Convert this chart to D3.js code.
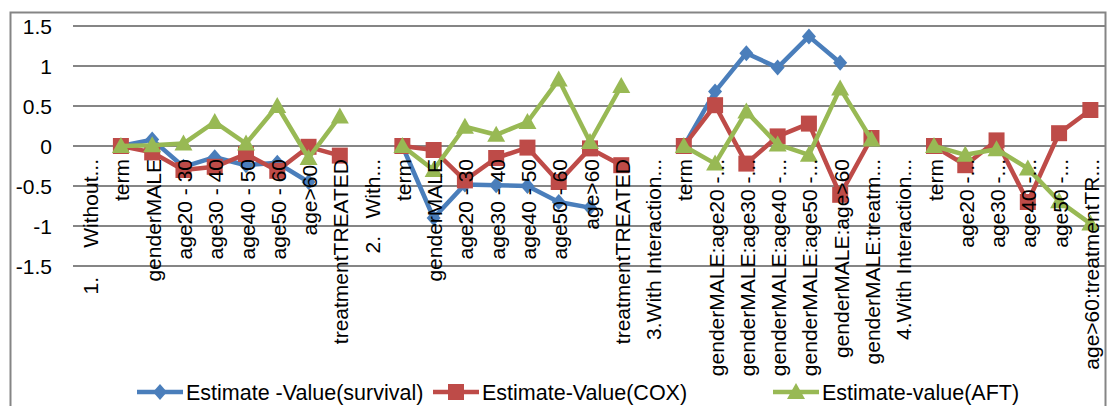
<!DOCTYPE html>
<html>
<head>
<meta charset="utf-8">
<script src="https://cdn.jsdelivr.net/npm/d3@7"></script>
<style>
  html, body { margin: 0; padding: 0; background: #fff; }
  svg { display: block; }
  text { font-family: "Liberation Sans", Arial, sans-serif; fill: #000; white-space: pre; }
</style>
</head>
<body>
<svg id="chart" width="1107" height="406"></svg>
<script>
const categories = [
  "1.     Without...", "term", "genderMALE", "age20 - 30", "age30 - 40", "age40 - 50", "age50 - 60", "age>60 ", "treatmentTREATED",
  "2.   With...", "term", "genderMALE", "age20 - 30", "age30 - 40", "age40 - 50", "age50 - 60", "age>60", "treatmentTREATED",
  "3.With Interaction...", "term", "genderMALE:age20 -...", "genderMALE:age30 -...", "genderMALE:age40 -...", "genderMALE:age50 -...", "genderMALE:age>60", "genderMALE:treatm...",
  "4.With Interaction...", "term", "age20 -...", "age30 -...", "age40 -...", "age50 -...", "age>60:treatmentTR..."
];
const survival = [null, 0, 0.08, -0.26, -0.14, -0.24, -0.21, -0.45, null,
  null, 0, -0.9, -0.48, -0.49, -0.5, -0.7, -0.77, null,
  null, 0, 0.68, 1.16, 0.98, 1.37, 1.04, null,
  null, null, null, null, null, null, null];
const cox = [null, 0, -0.08, -0.3, -0.26, -0.1, -0.31, -0.01, -0.12,
  null, 0, -0.05, -0.43, -0.15, -0.02, -0.45, -0.03, -0.24,
  null, 0, 0.51, -0.22, 0.12, 0.28, -0.61, 0.1,
  null, 0, -0.24, 0.07, -0.7, 0.16, 0.45];
const aft = [null, 0, 0.01, 0.03, 0.3, 0.03, 0.5, -0.15, 0.37,
  null, 0, -0.3, 0.24, 0.14, 0.3, 0.83, 0.05, 0.75,
  null, 0, -0.22, 0.43, 0.02, -0.11, 0.72, 0.08,
  null, 0, -0.11, -0.04, -0.28, -0.69, -0.97];
const yTicks = [-1.5, -1, -0.5, 0, 0.5, 1, 1.5];
const seriesNames = ["Estimate -Value(survival)", "Estimate-Value(COX)", "Estimate-value(AFT)"];
const seriesColors = ["#4A7EBB", "#BE4B48", "#98B954"];

const svg = d3.select("#chart");
svg.append("rect").attr("width", 1107).attr("height", 406).attr("fill", "#fff");
// outer chart border
svg.append("rect").attr("x", 10.5).attr("y", 12.5).attr("width", 1095).attr("height", 420)
  .attr("fill", "none").attr("stroke", "#858585").attr("stroke-width", 2);

const x = d3.scaleBand().domain(d3.range(categories.length)).range([74, 1106]);
const y = d3.scaleLinear().domain([-1.5, 1.5]).range([266, 26]);
const cx = i => x(i) + x.bandwidth() / 2;

// gridlines
svg.append("g").selectAll("line").data(yTicks).join("line")
  .attr("x1", 73).attr("x2", 1106)
  .attr("y1", d => y(d)).attr("y2", d => y(d))
  .attr("stroke", "#858585").attr("stroke-width", 2);

// y axis labels
const yAxis = d3.axisLeft(y).tickValues(yTicks).tickSize(0).tickPadding(0)
  .tickFormat(d => String(d));
const ya = svg.append("g").attr("transform", "translate(52,0)").call(yAxis);
ya.select(".domain").remove();
ya.selectAll("text").attr("font-size", 21).attr("font-family", "Liberation Sans, Arial, sans-serif")
  .attr("fill", "#000").attr("dy", "0.35em");

// series
const markers = [
  "M0,-8L7,0L0,8L-7,0Z",
  "M-8,-8L8,-8L8,8L-8,8Z",
  "M0,-9L9,7L-9,7Z"
];
[survival, cox, aft].forEach((vals, s) => {
  const line = d3.line().defined(d => d != null).x((d, i) => cx(i)).y(d => y(d));
  const g = svg.append("g");
  g.append("path").datum(vals).attr("d", line)
    .attr("fill", "none").attr("stroke", seriesColors[s]).attr("stroke-width", 4.5)
    .attr("stroke-linejoin", "round");
  g.selectAll("path.m").data(vals.map((v, i) => ({v, i})).filter(d => d.v != null)).join("path")
    .attr("class", "m")
    .attr("d", markers[s])
    .attr("transform", d => `translate(${cx(d.i)},${y(d.v)})`)
    .attr("fill", seriesColors[s]);
});

// category labels (rotated)
svg.append("g").selectAll("text").data(categories).join("text")
  .attr("transform", (d, i) => `translate(${cx(i) + 1},159) rotate(-90)`)
  .attr("text-anchor", "end")
  .attr("dy", "0.36em")
  .attr("font-size", 21)
  .attr("xml:space", "preserve")
  .text(d => d);

// legend
const legendX = [137, 433, 773];
const ly = 392;
seriesNames.forEach((name, s) => {
  const g = svg.append("g").attr("transform", `translate(${legendX[s]},${ly})`);
  g.append("line").attr("x1", 0).attr("x2", 46).attr("y1", 0).attr("y2", 0)
    .attr("stroke", seriesColors[s]).attr("stroke-width", 4.5);
  g.append("path").attr("d", markers[s]).attr("transform", "translate(23,0)").attr("fill", seriesColors[s]);
  g.append("text").attr("x", 49).attr("dy", "0.35em").attr("font-size", 21.5).text(name);
});
</script>
</body>
</html>
